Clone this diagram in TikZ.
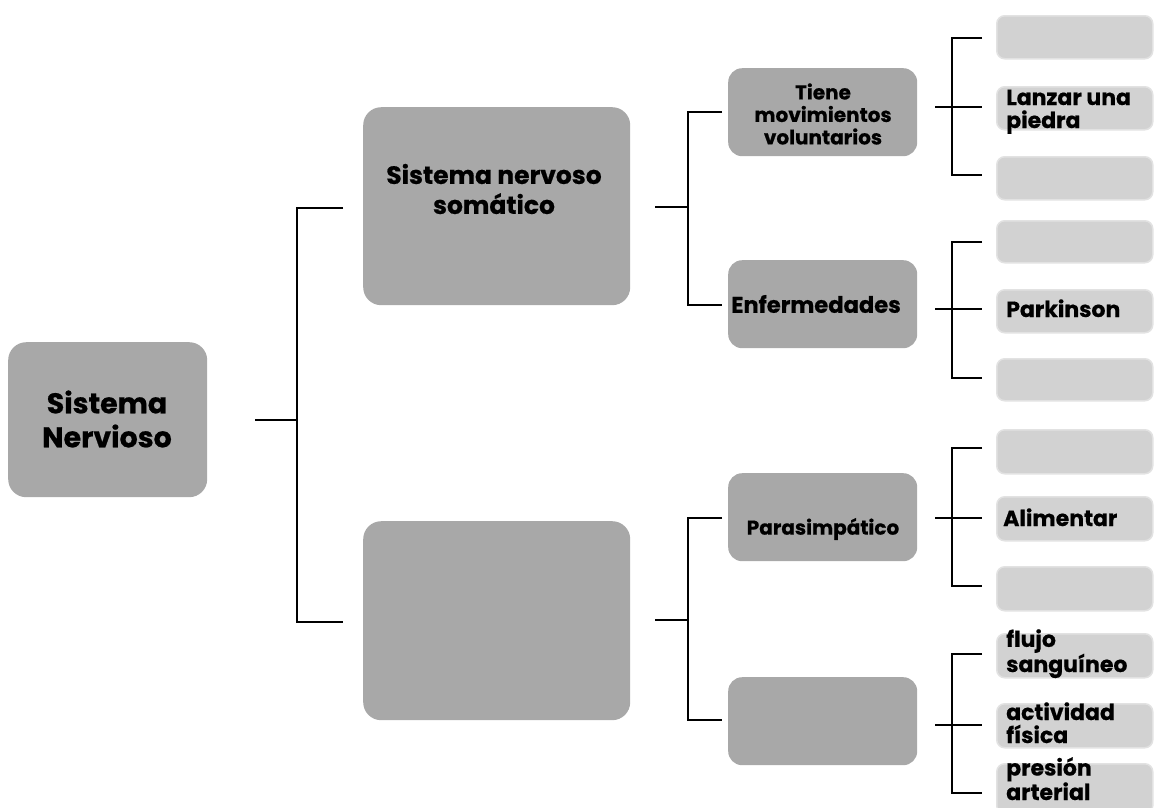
\documentclass[tikz,border=0pt]{standalone}
\usepackage{fontspec}
\setmainfont{Poppins}[BoldFeatures={FakeBold=0.6}]
\definecolor{boxgray}{RGB}{168,168,168}
\definecolor{leafgray}{RGB}{210,210,210}
\definecolor{leafedge}{RGB}{226,226,226}
\begin{document}
\begin{tikzpicture}[x=1pt,y=-1pt,
  box/.style={rectangle,rounded corners=18pt,fill=boxgray,inner sep=0pt,anchor=north west},
  midbox/.style={box,rounded corners=14pt,minimum width=189pt,minimum height=88pt},
  leaf/.style={rectangle,rounded corners=8pt,fill=leafgray,draw=leafedge,line width=1.5pt,inner sep=0pt,anchor=north west,minimum width=156pt},
  conn/.style={line width=2.4pt,black},
  lbl/.style={font=\bfseries,text=black,inner sep=0pt,align=center},
  leaftxt/.style={font=\fontsize{22}{23}\selectfont\bfseries,text=black,inner sep=0pt,anchor=base west,align=left}]
\useasboundingbox (0,0) rectangle (1154,807);
\fill[white] (0,0) rectangle (1154,807);

% main boxes
\node[box,minimum width=199pt,minimum height=155pt] (root) at (8,342) {};
\node[lbl,font=\fontsize{28.5}{34}\selectfont\bfseries] (rootT) at (107,419) {Sistema\\Nervioso};

\node[box,minimum width=267pt,minimum height=198pt] (som) at (363,107) {};
\node[lbl,font=\fontsize{25}{30}\selectfont\bfseries] (somT) at (494,189) {Sistema nervoso\\somático};

\node[box,minimum width=267pt,minimum height=199pt] (aut) at (363,521) {};

% second level
\node[midbox] (mov) at (728,68) {};
\node[lbl,font=\fontsize{20}{22.5}\selectfont\bfseries] (movT) at (823,114) {Tiene\\movimientos\\voluntarios};
\node[midbox] (enf) at (728,260) {};
\node[lbl,font=\fontsize{22.6}{28}\selectfont\bfseries] (enfT) at (816,304) {Enfermedades};
\node[midbox,minimum height=88pt] (para) at (728,473) {};
\node[lbl,font=\fontsize{20}{22}\selectfont\bfseries] (paraT) at (823,529) {Parasimpático};
\node[midbox] (simp) at (728,677) {};

% leaves
\node[leaf,minimum height=43pt] (l1) at (996,15) {};
\node[leaf,minimum height=43pt] (l2) at (996,86) {};
\node[leaf,minimum height=43pt] (l3) at (996,156) {};
\node[leaf,minimum height=42pt] (l4) at (996,220) {};
\node[leaf,minimum height=43pt] (l5) at (996,289) {};
\node[leaf,minimum height=42pt] (l6) at (996,358) {};
\node[leaf,minimum height=44pt] (l7) at (996,429) {};
\node[leaf,minimum height=44pt] (l8) at (996,496) {};
\node[leaf,minimum height=44pt] (l9) at (996,566) {};
\node[leaf,minimum height=44pt] (l10) at (996,633) {};
\node[leaf,minimum height=44pt] (l11) at (996,703) {};
\node[leaf,minimum height=50pt] (l12) at (996,763) {};

\node[leaftxt] (t2) at (1006,128) {Lanzar una\\piedra};
\node[leaftxt] (t5) at (1006,317) {Parkinson};
\node[leaftxt] (t8) at (1003,526) {Alimentar};
\node[leaftxt] (t10) at (1006,672) {flujo\\sanguíneo};
\node[leaftxt] (t11) at (1006,743) {actividad\\física};
\node[leaftxt] (t12) at (1006,800) {presión\\arterial};

% connectors: root
\coordinate (rS) at (255,420); \coordinate (rJ) at (297,420);
\coordinate (rA) at (343,208); \coordinate (rB) at (343,622);
\draw[conn] (rS) -- (rJ);
\draw[conn] (rA) -| (rJ) |- (rB);

% somatic
\coordinate (sS) at (655,207); \coordinate (sJ) at (688,207);
\coordinate (sA) at (722,112); \coordinate (sB) at (722,305);
\draw[conn] (sS) -- (sJ);
\draw[conn] (sA) -| (sJ) |- (sB);

% autonomic
\coordinate (aS) at (655,620); \coordinate (aJ) at (688,620);
\coordinate (aA) at (722,518); \coordinate (aB) at (722,720);
\draw[conn] (aS) -- (aJ);
\draw[conn] (aA) -| (aJ) |- (aB);

% leaf brackets
\foreach \n/\t/\m/\b in {g1/38/107/175, g2/242/309/378, g3/448/518/586, g4/654/725/793}{
  \coordinate (\n S) at (935,\m); \coordinate (\n J) at (952,\m);
  \coordinate (\n M) at (982,\m);
  \coordinate (\n A) at (982,\t); \coordinate (\n B) at (982,\b);
  \draw[conn] (\n S) -- (\n M);
  \draw[conn] (\n A) -| (\n J) |- (\n B);
}
\end{tikzpicture}
\end{document}
